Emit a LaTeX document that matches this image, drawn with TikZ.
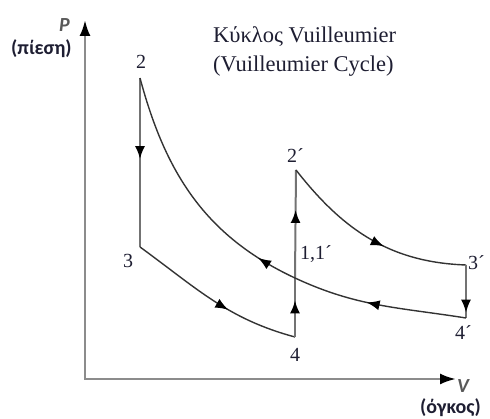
\documentclass[tikz,border=0pt]{standalone}
\usepackage{fontspec}
\setmainfont{Liberation Serif}
\newfontfamily\axisfont{Carlito}
\usetikzlibrary{arrows.meta,decorations.markings}

\definecolor{ink}{HTML}{1E1E32}
\tikzset{
  axis/.style={line width=2.6pt,draw=black!45,{Latex[length=16pt,width=11pt,color=black]}-{Latex[length=16pt,width=11pt,color=black]}},
  cyc/.style={line width=1.4pt,draw=black!80},
  iso/.style={line width=2pt,draw=black!55},
  flow/.style={postaction={decorate},decoration={markings,
    mark=at position #1 with {\arrow{Latex[length=13pt,width=10pt,color=black]}}}},
  numlbl/.style={font=\rmfamily\fontsize{20}{20}\selectfont,anchor=base},
  axlbl/.style={font=\axisfont\bfseries\fontsize{20}{20}\selectfont,anchor=base west}
}

\begin{document}
\begin{tikzpicture}[x=1pt,y=1pt, every node/.style={text=ink,inner sep=0pt}]
  \useasboundingbox (0,0) rectangle (490,419);
  % axes
  \coordinate (O) at (85,40);
  \coordinate (Ptop) at (85,399);
  \coordinate (Vend) at (456,40);
  \draw[axis] (Ptop) -- (O) -- (Vend);
  \node[axlbl,text=black!65] (Plbl) at (59,387) {\itshape P};
  \node[axlbl] (Pname) at (11,364) {(πίεση)};
  \node[axlbl,text=black!65] (Vlbl) at (457,26) {\itshape V};
  \node[axlbl] (Vname) at (420,5) {(όγκος)};

  % state points
  \coordinate (s2) at (140,341);
  \coordinate (s3) at (140,172);
  \coordinate (s4) at (295,82);
  \coordinate (s1) at (295,141);
  \coordinate (s2p) at (296,249);
  \coordinate (s3p) at (466,154);
  \coordinate (s4p) at (466,101);

  % the two cycles
  \draw[iso,flow=0.48] (s2) -- (s3);
  \draw[cyc,flow=0.6] (s3) to[out=-36,in=165] (s4);
  \draw[iso,flow=0.62] (s4) -- (s1);
  \draw[iso,flow=0.63] (s1) -- (s2p);
  \draw[cyc,flow=0.58] (s2p) to[out=-52,in=178] (s3p);
  \draw[iso,flow=0.9] (s3p) -- (s4p);
  \draw[cyc,flow=0.57] (s4p) to[out=171,in=-25] (s1);
  \draw[cyc,flow=0.16] (s1) to[out=155,in=-75] (s2);

  % labels
  \node[numlbl] (l2) at (141,350) {2};
  \node[numlbl] (l3) at (128,151) {3};
  \node[numlbl] (l4) at (295,57) {4};
  \node[numlbl,anchor=base west] (l2p) at (287,256) {2´};
  \node[numlbl,anchor=base west] (l1) at (300,159) {1,1´};
  \node[numlbl,anchor=base west] (l3p) at (468,149) {3´};
  \node[numlbl,anchor=base west] (l4p) at (455,79) {4´};

  \node[font=\fontsize{22.5}{28}\selectfont,anchor=base west] (ttl1) at (213,376) {Κύκλος Vuilleumier};
  \node[font=\fontsize{22.5}{28}\selectfont,anchor=base west] (ttl2) at (213,347) {(Vuilleumier Cycle)};
\end{tikzpicture}
\end{document}
